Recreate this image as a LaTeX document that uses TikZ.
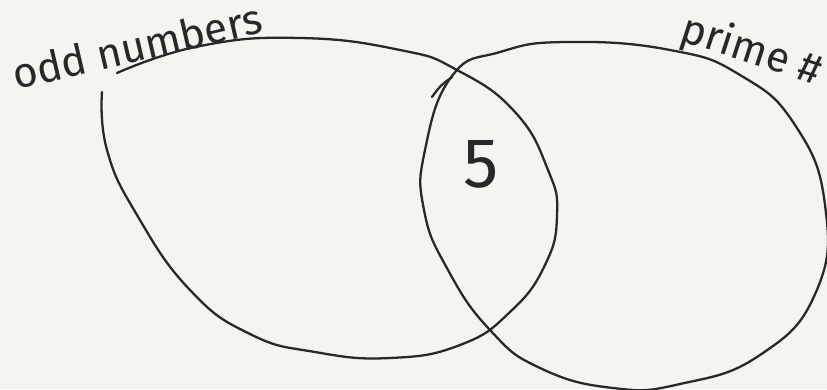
\documentclass[tikz,border=0pt]{standalone}
\usepackage{fontspec}
\setsansfont{Fira Sans}
\usepackage{tikz}
\usetikzlibrary{positioning}
\definecolor{paper}{RGB}{245,244,241}
\definecolor{pencil}{RGB}{40,40,40}

\begin{document}
\begin{tikzpicture}[x=0.02cm, y=-0.02cm,
    stroke/.style={line width=1.3pt, pencil, line cap=round, line join=round},
    hand/.style={font=\sffamily\fontsize{24}{26}\selectfont, text=pencil, inner sep=0pt}
]
\useasboundingbox[fill=paper] (0,0) rectangle (827,389);

% odd numbers set (open stroke, gap under the label)
\draw[stroke] plot[smooth, tension=0.8] coordinates {
    (117,73) (200,46) (300,38) (400,50) (457,70) (515,112) (548,170)
    (557,215) (545,265) (510,312) (460,345) (390,358)
    (315,352) (250,334) (190,290) (137,215) (107,150) (102,92)};

% prime set
\draw[stroke] plot[smooth cycle, tension=0.8] coordinates {
    (452,76) (500,52) (567,42) (670,50) (740,75) (795,125) (825,205)
    (816,292) (760,355) (680,384) (613,388) (540,368) (490,330)
    (448,270) (424,210) (425,150)};
\draw[stroke] (432,97) .. controls (440,86) .. (452,77);

\node[hand, rotate=13, anchor=base west] (odd) at (16,90) {odd numbers};
\node[hand, rotate=-18, anchor=base west] (prime) at (678,40) {prime \#};
\node[font=\sffamily\fontsize{40}{42}\selectfont, text=pencil, inner sep=0pt] (five) at (481,164) {5};
\end{tikzpicture}
\end{document}
